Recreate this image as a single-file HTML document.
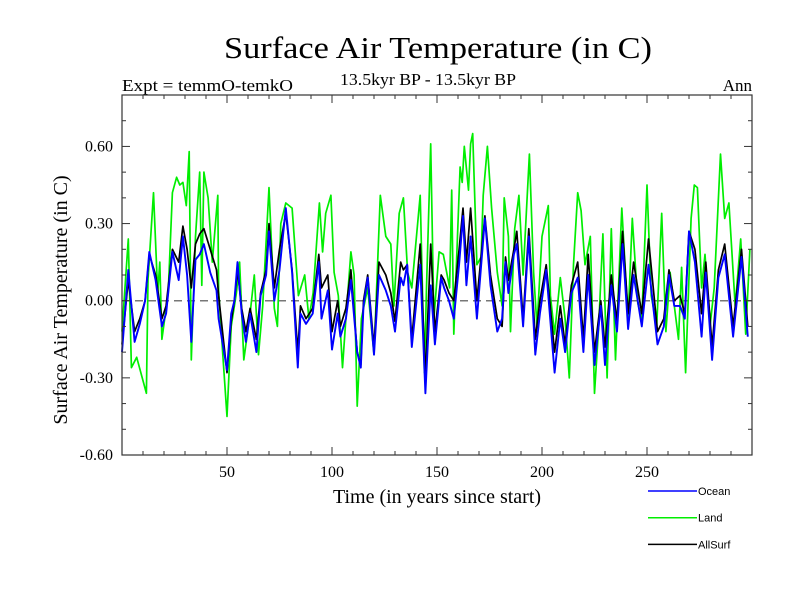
<!DOCTYPE html>
<html><head><meta charset="utf-8"><style>
body{margin:0;background:#fff;width:800px;height:600px;overflow:hidden}
svg{display:block}
text{font-family:"Liberation Serif",serif;fill:#000}
</style></head><body>
<svg id="chart" width="800" height="600" xmlns="http://www.w3.org/2000/svg">
<text x="438" y="58" font-size="31" text-anchor="middle" textLength="428" lengthAdjust="spacingAndGlyphs">Surface Air Temperature (in C)</text>
<text x="122" y="91" font-size="17" textLength="171" lengthAdjust="spacingAndGlyphs">Expt = temmO-temkO</text>
<text x="428" y="85" font-size="17" text-anchor="middle" textLength="176" lengthAdjust="spacingAndGlyphs">13.5kyr BP - 13.5kyr BP</text>
<text x="752" y="91" font-size="17" text-anchor="end">Ann</text>
<text transform="translate(67,300) rotate(-90)" font-size="20" text-anchor="middle">Surface Air Temperature (in C)</text>
<text x="437" y="503" font-size="20" text-anchor="middle">Time (in years since start)</text>
<g id="grid"></g><g id="series"></g><g id="axes"></g><g id="legend"></g>
</svg>
<script>
const xTicks=[50,100,150,200,250];
const yTicks=[-0.6,-0.3,0,0.3,0.6];
const yTickLabels=["-0.60","-0.30","0.00","0.30","0.60"];
const oceanYears=[0,3,6,8.5,11,13,16,19,21,24,27,29,31,33,35,37,39,42,45,46,50,52,53.5,55,57,59,61,64,66,68.6,70,72.5,75,78,81,83.7,85,87.6,90.8,93.7,95,98,100,102.7,104,106.6,109,112,113.7,115,117,120,122.4,125.6,128,130,132.7,134,135.8,138,142,144.5,147,149,152,153.4,155.7,158,160.5,162.4,164,166,169,172.8,175.5,178.7,181,182.6,184,186.6,188,191,193.7,196.8,199,202,206,208.7,211,214,217,219.7,222,225,228,230,233,235.7,238.4,241,243.6,247.5,250.7,255,258,260.5,263,265.7,268,270,272.8,276,278,281,284,287,291,295,298];
const oceanVals=[-0.20,0.12,-0.16,-0.09,0,0.19,0.08,-0.10,-0.05,0.19,0.08,0.25,0.10,-0.16,0.16,0.18,0.22,0.11,0.04,-0.07,-0.27,-0.05,0,0.15,-0.05,-0.16,-0.05,-0.20,0.02,0.10,0.27,0.0,0.12,0.36,0.11,-0.26,-0.05,-0.09,-0.05,0.15,-0.07,0.04,-0.19,-0.05,-0.14,-0.07,0.08,-0.20,-0.26,-0.02,0.09,-0.21,0.10,0.04,-0.02,-0.12,0.09,0.06,0.14,-0.18,0.14,-0.36,0.06,-0.17,0.09,0.05,0,-0.07,0.14,0.33,0.06,0.25,-0.07,0.32,0.06,-0.12,-0.07,0.15,0.03,0.18,0.22,-0.10,0.25,-0.21,-0.05,0.12,-0.28,-0.07,-0.20,0.03,0.09,-0.20,0.10,-0.25,-0.02,-0.25,0.06,-0.12,0.22,-0.11,0.10,-0.10,0.14,-0.17,-0.10,0.10,-0.02,-0.02,-0.07,0.27,0.15,-0.14,0.11,-0.23,0.09,0.18,-0.14,0.17,-0.14];
const allYears=oceanYears;
const allVals=[-0.17,0.08,-0.12,-0.07,0.0,0.18,0.10,-0.07,-0.02,0.20,0.15,0.29,0.20,0.05,0.22,0.26,0.28,0.20,0.12,0.02,-0.28,-0.08,0.0,0.12,-0.03,-0.12,-0.03,-0.15,0.03,0.12,0.30,0.05,0.20,0.34,0.12,-0.20,-0.02,-0.07,-0.03,0.18,0.05,0.10,-0.12,0.0,-0.10,-0.03,0.12,-0.20,-0.25,0.0,0.10,-0.18,0.15,0.10,0.03,-0.08,0.15,0.12,0.14,-0.15,0.22,-0.30,0.22,-0.12,0.10,0.08,0.03,0.0,0.20,0.36,0.15,0.36,0.0,0.33,0.10,-0.07,-0.10,0.17,0.08,0.20,0.27,-0.07,0.28,-0.15,0.0,0.14,-0.20,-0.02,-0.17,0.06,0.15,-0.15,0.18,-0.20,0.0,-0.18,0.10,-0.08,0.27,-0.05,0.15,-0.05,0.24,-0.12,-0.07,0.12,0.0,0.02,-0.05,0.27,0.20,-0.05,0.15,-0.18,0.12,0.22,-0.10,0.20,-0.10];
const landYears=[0,3,4.5,7,11.6,12.4,15,17,18,19,22,24,26,27.5,29,30.6,32,33,35,37,38,39,41,43,45.6,46,48,50,52,54.5,56,58,61,63,65,67,70,72.5,74,75.6,78,81,84,87,89,91,94,95.5,97,99.5,101,103,105,106.6,109,110.5,112,114,117,120,123,125.6,128,129.5,132,134,136,138,142,144,145,147,148.5,151,153,156,157,158,161,162,163,165,166,167,169,171,172,174,176,178.7,181,182,184,185,187,189,191,194,196,197.6,200,203,204,206,208.7,211,213,215,217,218.6,220.5,223,225,227,229,231,233,235,238,241,243,245.6,247.5,250,252,254.6,257,259,261,265,266.5,268.4,271,272.5,274,276,277.6,280,282,285,287,289,292,294.6,297,299];
const landVals=[-0.12,0.24,-0.26,-0.22,-0.36,0.08,0.42,0.03,0.15,-0.15,0.03,0.42,0.48,0.45,0.46,0.37,0.58,-0.23,0.25,0.50,0.06,0.50,0.40,0.15,0.41,0.04,-0.21,-0.45,-0.10,0.03,0.15,-0.23,-0.05,0.10,-0.21,-0.02,0.44,-0.03,-0.10,0.30,0.38,0.36,0.02,0.10,-0.07,0.03,0.38,0.19,0.34,0.41,0.11,0.02,-0.26,-0.07,0.19,0.10,-0.41,-0.07,0.05,-0.21,0.41,0.25,0.22,-0.02,0.34,0.40,0.11,0.05,0.41,-0.28,0.05,0.61,-0.07,0.19,0.18,0.05,0.43,-0.13,0.52,0.46,0.60,0.43,0.61,0.65,0.14,0.17,0.41,0.60,0.36,0.11,-0.02,0.40,0.25,-0.12,0.28,0.41,0.10,0.57,0.11,-0.10,0.25,0.37,0.02,-0.13,0.09,-0.07,-0.30,0.14,0.42,0.35,0.14,0.25,-0.36,-0.10,0.26,-0.30,0.28,-0.23,0.36,-0.07,0.32,-0.01,-0.07,0.45,0.02,-0.10,0.34,-0.12,0.11,-0.15,0.13,-0.28,0.32,0.45,0.44,0.05,0.18,-0.10,0.05,0.57,0.32,0.38,-0.02,0.24,-0.13,0.20];

const NS="http://www.w3.org/2000/svg";
const L=122,R=752,T=95,B=455;
const xMin=0,xMax=300,yMin=-0.6,yMax=0.8;
const sx=v=>L+(v-xMin)/(xMax-xMin)*(R-L);
const sy=v=>B-(v-yMin)/(yMax-yMin)*(B-T);
function mk(tag,attrs,parent){const e=document.createElementNS(NS,tag);for(const k in attrs)e.setAttribute(k,attrs[k]);parent.appendChild(e);return e;}
const grid=document.getElementById('grid'),ser=document.getElementById('series'),ax=document.getElementById('axes'),lg=document.getElementById('legend');

const zero=mk('line',{x1:L,x2:R,y1:sy(0),y2:sy(0),stroke:'#777','stroke-width':1.5,'stroke-dasharray':'8,5'},grid);



function drawSeries(xs,ys,color,name,w){
  const d=xs.map((x,i)=>(i?'L':'M')+sx(x).toFixed(1)+','+sy(ys[i]).toFixed(1)).join('');
  const p=mk('path',{d:d,fill:'none',stroke:color,'stroke-width':w,'stroke-linejoin':'round'},ser);
  
  
}
drawSeries(landYears,landVals,'#00ee00','land-line',1.7);
drawSeries(allYears,allVals,'#000000','allsurf-line',1.7);
drawSeries(oceanYears,oceanVals,'#0000ff','ocean-line',1.9);

const frame=mk('rect',{x:L,y:T,width:R-L,height:B-T,fill:'none',stroke:'#333','stroke-width':1.2},ax);



for(let v=10;v<300;v+=10){
  const major=v%50===0,len=major?8:4,x=sx(v);
  const t1=mk('line',{x1:x,x2:x,y1:B,y2:B-len,stroke:'#333'},ax);
  
  
  const t2=mk('line',{x1:x,x2:x,y1:T,y2:T+len,stroke:'#333'},ax);
  
  
}
xTicks.forEach(v=>{
  const t=mk('text',{x:sx(v),y:477,'font-size':16,'text-anchor':'middle'},ax);
  t.textContent=String(v);
  
  
});
for(let i=-5;i<=7;i++){
  const v=i/10,major=(i%3===0),len=major?8:4,y=sy(v);
  const t1=mk('line',{x1:L,x2:L+len,y1:y,y2:y,stroke:'#333'},ax);
  
  
  const t2=mk('line',{x1:R,x2:R-len,y1:y,y2:y,stroke:'#333'},ax);
  
  
}
yTicks.forEach((v,i)=>{
  const t=mk('text',{x:113,y:sy(v)+5,'font-size':16,'text-anchor':'end'},ax);
  t.textContent=yTickLabels[i];
  
  
});

const legendNames=["Ocean","Land","AllSurf"];
const legendColors=["#0000ff","#00ee00","#000000"];
legendNames.forEach((n,i)=>{
  const y=491+i*26.7;
  const g=mk('g',{},lg);
  
  
  mk('line',{x1:648,x2:697,y1:y,y2:y,stroke:legendColors[i],'stroke-width':1.5},g);
  const t=mk('text',{x:698,y:y+4,'font-size':11},g);
  t.setAttribute('style','font-family:"Liberation Sans",sans-serif');
  t.textContent=n;
});
</script>
</body></html>
